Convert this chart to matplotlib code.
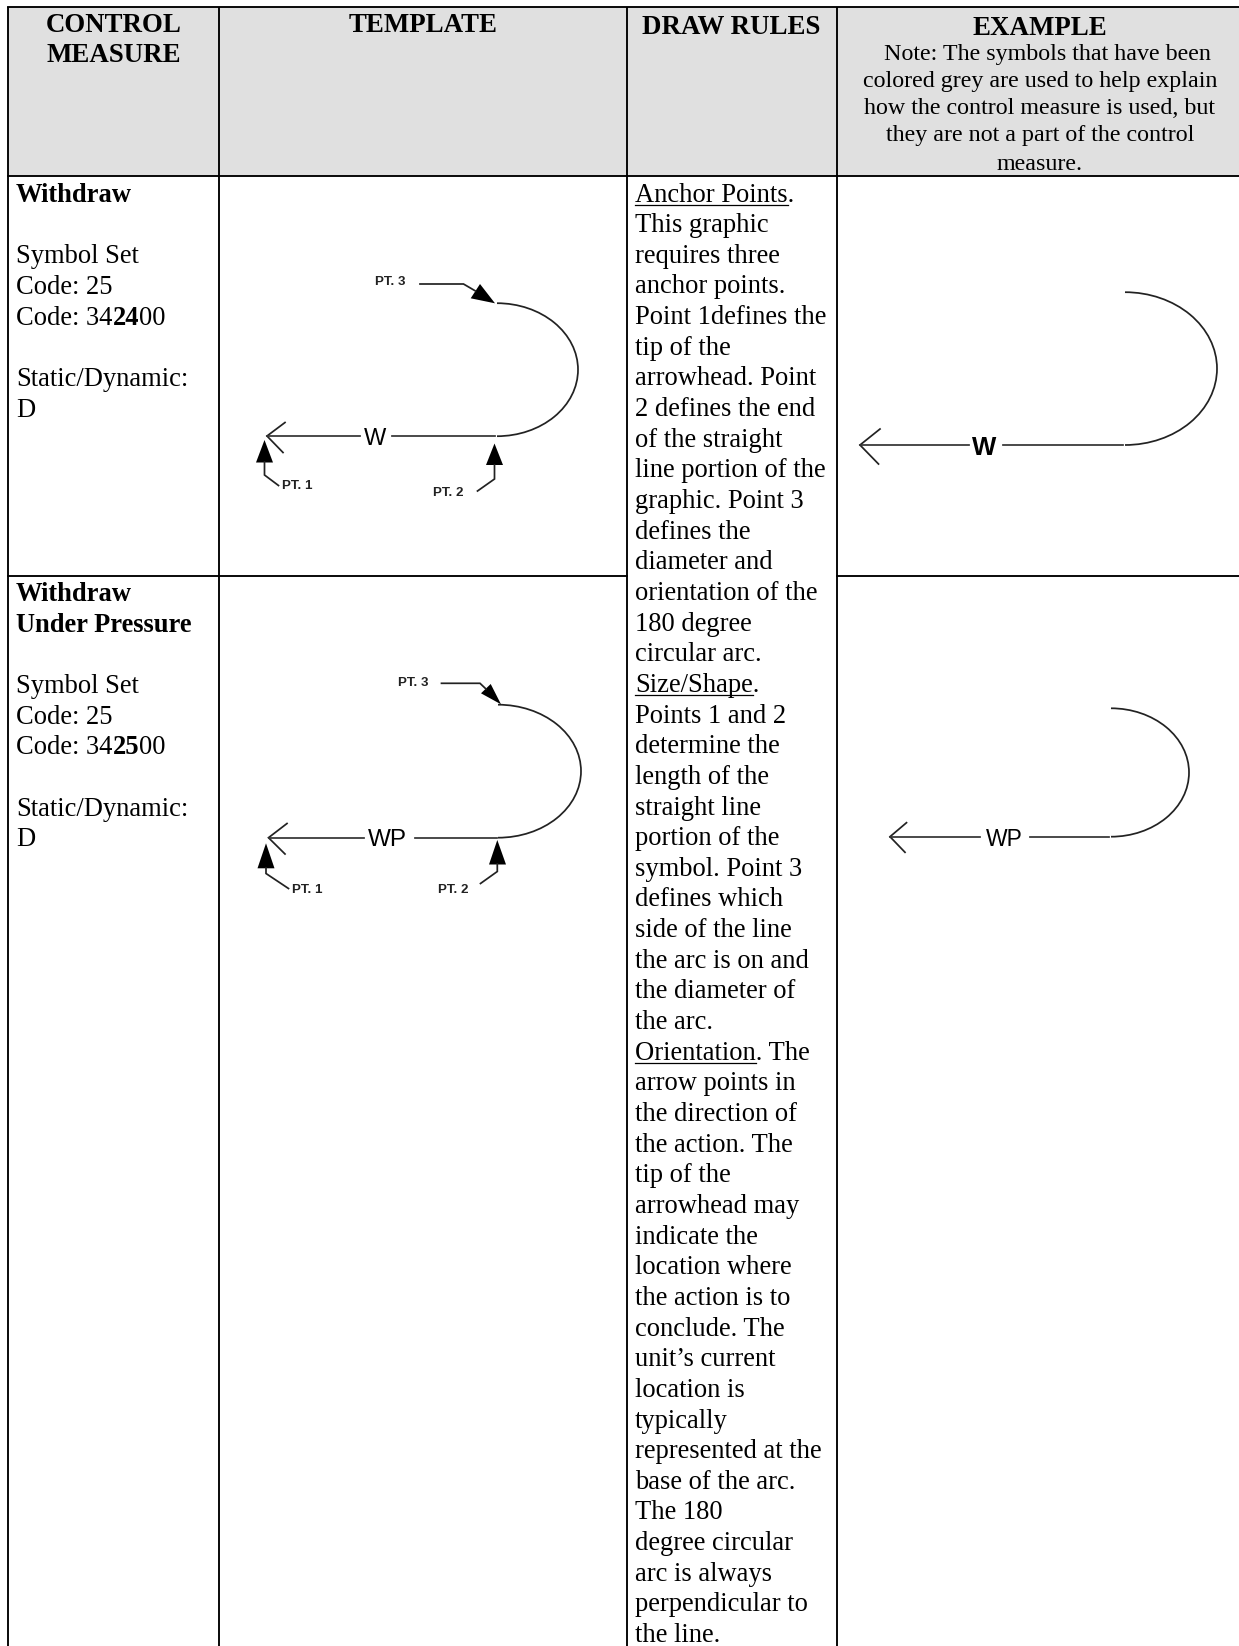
import numpy as np
import matplotlib
matplotlib.use("Agg")
import matplotlib.pyplot as plt
from matplotlib.patches import Arc, Polygon, Rectangle

W_PX, H_PX = 1239, 1646
SERIF = "Liberation Serif"
SANS = "Liberation Sans"

# ---- content -------------------------------------------------------------
headers = ["TEMPLATE", "DRAW RULES", "EXAMPLE"]
control_header = ["CONTROL", "MEASURE"]
note_lines = ["Note: The symbols that have been",
              "colored grey are used to help explain",
              "how the control measure is used, but",
              "they are not a part of the control",
              "measure."]
rules_lines = [
    "Anchor Points.", "This graphic", "requires three", "anchor points.",
    "Point 1defines the", "tip of the", "arrowhead. Point", "2 defines the end",
    "of the straight", "line portion of the", "graphic. Point 3", "defines the",
    "diameter and", "orientation of the", "180 degree", "circular arc.",
    "Size/Shape.", "Points 1 and 2", "determine the", "length of the",
    "straight line", "portion of the", "symbol. Point 3", "defines which",
    "side of the line", "the arc is on and", "the diameter of", "the arc.",
    "Orientation. The", "arrow points in", "the direction of", "the action. The",
    "tip of the", "arrowhead may", "indicate the", "location where",
    "the action is to", "conclude. The", "unit\u2019s current", "location is",
    "typically", "represented at the", "base of the arc.", "The 180",
    "degree circular", "arc is always", "perpendicular to", "the line."]
underlined_words = {"Anchor Points.": "Anchor Points",
                    "Size/Shape.": "Size/Shape",
                    "Orientation. The": "Orientation"}

# (text runs, line slot)  bold runs flagged True
withdraw_cell = [([("Withdraw", True)], 0), ([("Symbol Set", False)], 2),
                 ([("Code: 25", False)], 3),
                 ([("Code: 34", False), ("24", True), ("00", False)], 4),
                 ([("Static/Dynamic:", False)], 6), ([("D", False)], 7)]
pressure_cell = [([("Withdraw", True)], 0), ([("Under Pressure", True)], 1),
                 ([("Symbol Set", False)], 3), ([("Code: 25", False)], 4),
                 ([("Code: 34", False), ("25", True), ("00", False)], 5),
                 ([("Static/Dynamic:", False)], 7), ([("D", False)], 8)]

# ---- canvas in reference pixels -------------------------------------------
fig = plt.figure(figsize=(W_PX / 100, H_PX / 100), dpi=100, facecolor="white")
ax = fig.add_axes([0, 0, 1, 1])
ax.set_xlim(0, W_PX)
ax.set_ylim(H_PX, 0)
ax.axis("off")

X_LEFT, X_C1, X_C2, X_C3 = 8, 218.5, 626.5, 836.5
Y_TOP, Y_HEAD, Y_ROW = 6.5, 175.5, 575.5
LW = 1.35

ax.add_patch(Rectangle((X_LEFT, Y_TOP), W_PX - X_LEFT, Y_HEAD - Y_TOP,
                       fc="#e0e0e0", ec="none", zorder=0))
for x in (X_LEFT, X_C1, X_C2, X_C3):
    ax.plot([x, x], [Y_TOP, H_PX], color="black", lw=LW, solid_capstyle="butt")
ax.plot([X_LEFT, W_PX], [Y_TOP, Y_TOP], color="black", lw=LW)
ax.plot([X_LEFT, W_PX], [Y_HEAD, Y_HEAD], color="black", lw=LW)
ax.plot([X_LEFT, X_C2], [Y_ROW, Y_ROW], color="black", lw=LW)
ax.plot([X_C3, W_PX], [Y_ROW, Y_ROW], color="black", lw=LW)

# ---- text -----------------------------------------------------------------
BODY = 19.1
HEAD = 19.4
NOTE = 17.3
renderer = fig.canvas.get_renderer()


def width_px(s, weight, size):
    t = ax.text(0, 0, s, family=SERIF, weight=weight, fontsize=size)
    w = t.get_window_extent(renderer).width
    t.remove()
    return w


for s, y in zip(control_header, (32, 62)):
    ax.text(114, y, s, family=SERIF, weight="bold", fontsize=HEAD, ha="center", va="baseline")
for s, x, y in zip(headers, (423.5, 731, 1040), (32, 34, 35)):
    ax.text(x, y, s, family=SERIF, weight="bold", fontsize=HEAD, ha="center", va="baseline")
for s, y, x in zip(note_lines, (60, 87, 114, 141, 170), (1047, 1040, 1040, 1040, 1040)):
    ax.text(x, y, s, family=SERIF, fontsize=NOTE, ha="center", va="baseline")

RULE_X, RULE_Y0, PITCH = 635, 201.5, 30.65
for i, s in enumerate(rules_lines):
    y = RULE_Y0 + i * PITCH
    ax.text(RULE_X, y, s, family=SERIF, fontsize=BODY, va="baseline")
    if s in underlined_words:
        w = width_px(underlined_words[s], "normal", BODY)
        ax.plot([RULE_X, RULE_X + w], [y + 3, y + 3], color="black", lw=0.9)


def cell(lines, y0):
    for runs, slot in lines:
        x = 16
        y = y0 + slot * PITCH
        for s, bold in runs:
            weight = "bold" if bold else "normal"
            ax.text(x, y, s, family=SERIF, weight=weight, fontsize=BODY, va="baseline")
            x += width_px(s, weight, BODY)


cell(withdraw_cell, 202)
cell(pressure_cell, 601)

# ---- symbols --------------------------------------------------------------
STROKE = 1.25


def symbol(tip, barb1, barb2, gap, x_join, arc_c, arc_rx, arc_ry, label, lab_size, lab_weight,
           lab_x, lab_color="black"):
    y = tip[1]
    ax.plot([barb1[0], tip[0], barb2[0]], [barb1[1], tip[1], barb2[1]], color="#222222", lw=STROKE,
            solid_joinstyle="miter")
    ax.plot([tip[0], gap[0]], [y, y], color="#333333", lw=STROKE)
    ax.plot([gap[1], x_join], [y, y], color="#333333", lw=STROKE)
    ax.add_patch(Arc(arc_c, 2 * arc_rx, 2 * arc_ry, theta1=-90, theta2=90,
                     color="#222222", lw=STROKE))
    ax.text(lab_x, y, label, family=SANS, fontsize=lab_size, weight=lab_weight, ha="center",
            va="center_baseline", color=lab_color)


def callout(tip, base_a, base_b, path):
    ax.add_patch(Polygon([tip, base_a, base_b], closed=True, fc="black", ec="none"))
    xs, ys = zip(*path)
    ax.plot(xs, ys, color="#222222", lw=STROKE, solid_joinstyle="miter")


def tag(x, y, s):
    ax.text(x, y, s, family=SANS, fontsize=9.6, weight="bold", ha="left", va="center", color="#222222")


# Template, Withdraw
symbol((267, 436), (285, 422.5), (283, 452.5), (360, 392), 495, (497, 369.7), 81, 66.5,
       "W", 17, "normal", 375.5)
callout((264.5, 440), (256, 462.5), (273, 462.5), [(264.5, 462), (264.5, 475), (278.5, 485.5)])
callout((494.5, 443.5), (486, 465), (503, 465), [(494.5, 465), (494.5, 479), (477.5, 491)])
callout((495, 303.3), (470.7, 298.3), (480, 284), [(420, 284), (463.5, 284), (475.5, 291)])
tag(282.5, 486, "PT. 1")
tag(433, 493, "PT. 2")
tag(375, 282, "PT. 3")

# Template, Withdraw Under Pressure
symbol((268.5, 837.7), (287, 823.5), (285, 854), (363.5, 415), 497, (498, 771.2), 83, 66.5,
       "WP", 17.5, "normal", 387.5)
callout((266, 843.3), (257.5, 868.3), (274.5, 868.3), [(266, 868), (266, 873.5), (288.5, 888.5)])
callout((497.3, 840), (489, 864.5), (506, 864.5), [(497.3, 864), (497.3, 871.5), (480.5, 883.5)])
callout((501, 704.3), (481, 693.3), (490.7, 684), [(441.5, 683.3), (480, 683.3), (486, 689)])
tag(291.5, 890, "PT. 1")
tag(438, 890, "PT. 2")
tag(398, 683.3, "PT. 3")

# Examples
symbol((860, 445), (880, 429), (878.5, 464), (968.5, 1002.5), 1123, (1125, 368.6), 92, 76.4,
       "W", 18.5, "bold", 984)
symbol((890, 836.7), (906.5, 822.7), (905, 852.3), (980, 1030), 1108.5, (1111, 772.5), 78, 64.2,
       "WP", 16.5, "normal", 1004)

fig.savefig("out.png", dpi=100, facecolor="white")
